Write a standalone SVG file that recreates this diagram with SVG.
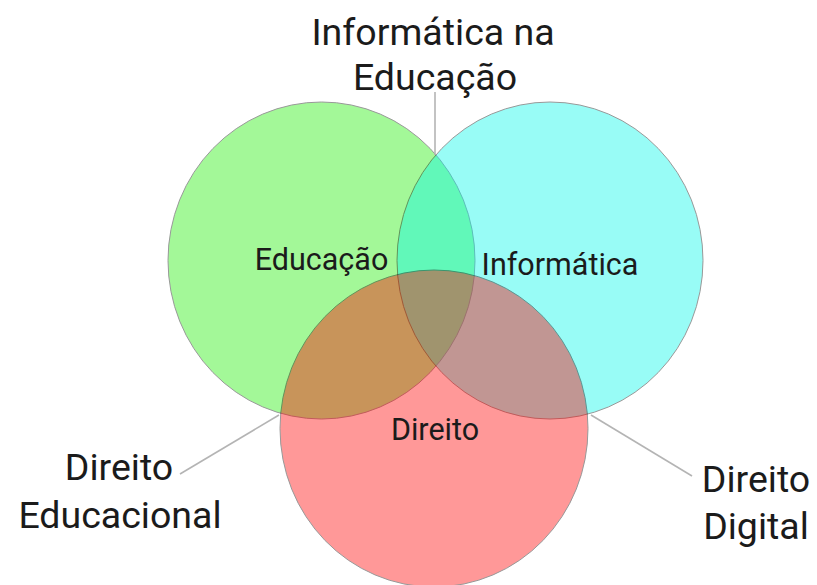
<svg xmlns="http://www.w3.org/2000/svg" width="817" height="585" viewBox="0 0 817 585">
<style>
.set{opacity:0.4;stroke:#000;stroke-width:1}
.lead{stroke:#b4b4b4;stroke-width:1.6;fill:none}
.big{font-family:Roboto,"Liberation Sans",sans-serif;font-size:37.5px;fill:#1b1b1b;text-anchor:middle}
.mid{font-family:Roboto,"Liberation Sans",sans-serif;font-size:30.5px;fill:#1b1b1b;text-anchor:middle}
</style>
<rect width="817" height="585" fill="#ffffff"/>
<g id="educacao">
<ellipse class="set" cx="321.5" cy="260.5" rx="153.5" ry="158.5" fill="#1cf000"/>
</g>
<g id="informatica">
<ellipse class="set" cx="550" cy="260.5" rx="153" ry="158.5" fill="#00f8eb"/>
</g>
<g id="direito">
<ellipse class="set" cx="434" cy="428.5" rx="154" ry="158.5" fill="#ff0000"/>
</g>
<g id="connectors">
<line class="lead" x1="435" y1="92" x2="435" y2="155"/>
<line class="lead" x1="180" y1="474" x2="279" y2="415"/>
<line class="lead" x1="591" y1="415" x2="692" y2="476"/>
</g>
<g id="label-educacao"><text class="mid" x="321.5" y="270">Educação</text></g>
<g id="label-informatica"><text class="mid" x="560" y="275">Informática</text></g>
<g id="label-direito"><text class="mid" x="435" y="440">Direito</text></g>
<g id="label-informatica-na-educacao">
<text class="big" x="433" y="45">Informática na</text>
<text class="big" x="435" y="90">Educação</text>
</g>
<g id="label-direito-educacional">
<text class="big" x="119" y="480">Direito</text>
<text class="big" x="120" y="528">Educacional</text>
</g>
<g id="label-direito-digital">
<text class="big" x="756" y="492">Direito</text>
<text class="big" x="756" y="539">Digital</text>
</g>
</svg>
